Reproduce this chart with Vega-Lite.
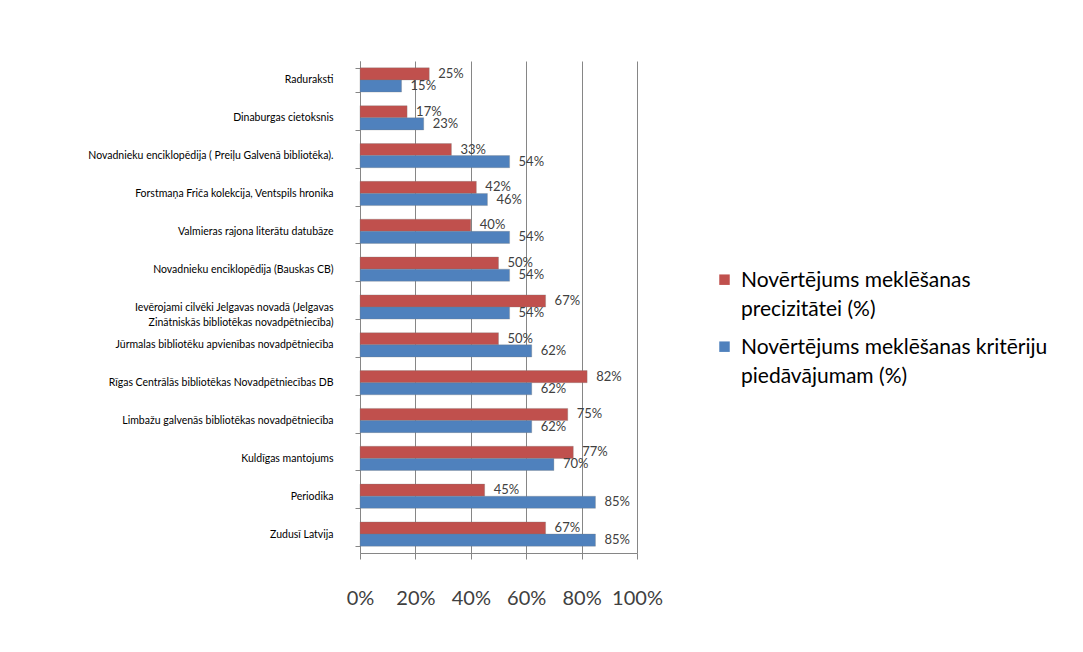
{
  "$schema": "https://vega.github.io/schema/vega-lite/v6.json",
  "width": 277,
  "height": 492,
  "autosize": {"type": "none"},
  "padding": {"left": 360, "top": 61, "right": 446, "bottom": 99},
  "background": "white",
  "config": {"view": {"stroke": null}, "font": "Lato", "style": {"guide-label": {"lineHeight": 29}}},
  "data": {
    "values": [
      {"source": "Raduraksti", "series": "Novērtējums meklēšanas precizitātei (%)", "value": 0.25},
      {"source": "Raduraksti", "series": "Novērtējums meklēšanas kritēriju piedāvājumam (%)", "value": 0.15},
      {"source": "Dinaburgas cietoksnis", "series": "Novērtējums meklēšanas precizitātei (%)", "value": 0.17},
      {"source": "Dinaburgas cietoksnis", "series": "Novērtējums meklēšanas kritēriju piedāvājumam (%)", "value": 0.23},
      {"source": "Novadnieku enciklopēdija  ( Preiļu Galvenā bibliotēka).", "series": "Novērtējums meklēšanas precizitātei (%)", "value": 0.33},
      {"source": "Novadnieku enciklopēdija  ( Preiļu Galvenā bibliotēka).", "series": "Novērtējums meklēšanas kritēriju piedāvājumam (%)", "value": 0.54},
      {"source": "Forstmaņa Friča kolekcija, Ventspils hronika", "series": "Novērtējums meklēšanas precizitātei (%)", "value": 0.42},
      {"source": "Forstmaņa Friča kolekcija, Ventspils hronika", "series": "Novērtējums meklēšanas kritēriju piedāvājumam (%)", "value": 0.46},
      {"source": "Valmieras rajona literātu datubāze", "series": "Novērtējums meklēšanas precizitātei (%)", "value": 0.40},
      {"source": "Valmieras rajona literātu datubāze", "series": "Novērtējums meklēšanas kritēriju piedāvājumam (%)", "value": 0.54},
      {"source": "Novadnieku enciklopēdija  (Bauskas CB)", "series": "Novērtējums meklēšanas precizitātei (%)", "value": 0.50},
      {"source": "Novadnieku enciklopēdija  (Bauskas CB)", "series": "Novērtējums meklēšanas kritēriju piedāvājumam (%)", "value": 0.54},
      {"source": "Ievērojami cilvēki Jelgavas novadā (Jelgavas Zinātniskās bibliotēkas  novadpētniecība)", "series": "Novērtējums meklēšanas precizitātei (%)", "value": 0.67},
      {"source": "Ievērojami cilvēki Jelgavas novadā (Jelgavas Zinātniskās bibliotēkas  novadpētniecība)", "series": "Novērtējums meklēšanas kritēriju piedāvājumam (%)", "value": 0.54},
      {"source": "Jūrmalas bibliotēku apvienības  novadpētniecība", "series": "Novērtējums meklēšanas precizitātei (%)", "value": 0.50},
      {"source": "Jūrmalas bibliotēku apvienības  novadpētniecība", "series": "Novērtējums meklēšanas kritēriju piedāvājumam (%)", "value": 0.62},
      {"source": "Rīgas Centrālās bibliotēkas  Novadpētniecības  DB", "series": "Novērtējums meklēšanas precizitātei (%)", "value": 0.82},
      {"source": "Rīgas Centrālās bibliotēkas  Novadpētniecības  DB", "series": "Novērtējums meklēšanas kritēriju piedāvājumam (%)", "value": 0.62},
      {"source": "Limbažu galvenās  bibliotēkas  novadpētniecība", "series": "Novērtējums meklēšanas precizitātei (%)", "value": 0.75},
      {"source": "Limbažu galvenās  bibliotēkas  novadpētniecība", "series": "Novērtējums meklēšanas kritēriju piedāvājumam (%)", "value": 0.62},
      {"source": "Kuldīgas  mantojums", "series": "Novērtējums meklēšanas precizitātei (%)", "value": 0.77},
      {"source": "Kuldīgas  mantojums", "series": "Novērtējums meklēšanas kritēriju piedāvājumam (%)", "value": 0.70},
      {"source": "Periodika", "series": "Novērtējums meklēšanas precizitātei (%)", "value": 0.45},
      {"source": "Periodika", "series": "Novērtējums meklēšanas kritēriju piedāvājumam (%)", "value": 0.85},
      {"source": "Zudusī Latvija", "series": "Novērtējums meklēšanas precizitātei (%)", "value": 0.67},
      {"source": "Zudusī Latvija", "series": "Novērtējums meklēšanas kritēriju piedāvājumam (%)", "value": 0.85}
    ]
  },
  "encoding": {
    "y": {
      "field": "source",
      "type": "nominal",
      "sort": [
        "Raduraksti",
        "Dinaburgas cietoksnis",
        "Novadnieku enciklopēdija  ( Preiļu Galvenā bibliotēka).",
        "Forstmaņa Friča kolekcija, Ventspils hronika",
        "Valmieras rajona literātu datubāze",
        "Novadnieku enciklopēdija  (Bauskas CB)",
        "Ievērojami cilvēki Jelgavas novadā (Jelgavas Zinātniskās bibliotēkas  novadpētniecība)",
        "Jūrmalas bibliotēku apvienības  novadpētniecība",
        "Rīgas Centrālās bibliotēkas  Novadpētniecības  DB",
        "Limbažu galvenās  bibliotēkas  novadpētniecība",
        "Kuldīgas  mantojums",
        "Periodika",
        "Zudusī Latvija"
      ],
      "scale": {"paddingInner": 0.36, "paddingOuter": 0.18},
      "axis": {
        "title": null,
        "labelFont": "Lato",
        "labelFontSize": 10.5,
        "labelColor": "#000000",
        "labelPadding": 22,
        "labelLimit": 400,
        "labelLineHeight": 15,
        "tickBand": "extent",
        "tickSize": 5,
        "tickColor": "#868686",
        "domainColor": "#868686",
        "labelExpr": "indexof(datum.label, 'Ievērojami') == 0 ? ['Ievērojami cilvēki Jelgavas novadā (Jelgavas', 'Zinātniskās bibliotēkas  novadpētniecība)'] : datum.label"
      }
    },
    "yOffset": {
      "field": "series",
      "sort": ["Novērtējums meklēšanas precizitātei (%)", "Novērtējums meklēšanas kritēriju piedāvājumam (%)"]
    },
    "x": {
      "field": "value",
      "type": "quantitative",
      "scale": {"domain": [0, 1]},
      "axis": {
        "title": null,
        "values": [0, 0.2, 0.4, 0.6, 0.8, 1],
        "format": ".0%",
        "labelFont": "Lato",
        "labelFontSize": 20,
        "labelColor": "#404040",
        "labelPadding": 29,
        "tickSize": 6,
        "tickColor": "#868686",
        "domainColor": "#868686",
        "grid": true,
        "gridColor": "#868686",
        "labelFlush": false
      }
    }
  },
  "layer": [
    {
      "mark": {"type": "bar", "stroke": "#7a7a7a", "strokeWidth": 0.5, "strokeOpacity": 0.6},
      "encoding": {
        "color": {
          "field": "series",
          "type": "nominal",
          "scale": {
            "domain": ["Novērtējums meklēšanas precizitātei (%)", "Novērtējums meklēšanas kritēriju piedāvājumam (%)"],
            "range": ["#C0504D", "#4F81BD"]
          },
          "legend": {
            "title": null,
            "orient": "none",
            "legendX": 354,
            "legendY": 215,
            "symbolType": "M-1,-2.3H1V-0.3H-1Z",
            "symbolSize": 110,
            "symbolStrokeWidth": 0,
            "labelFont": "Lato",
            "labelFontSize": 21,
            "labelColor": "#000000",
            "labelLimit": 400,
            "labelBaseline": "alphabetic",
            "labelOffset": 6,
            "rowPadding": 16,
            "labelExpr": "indexof(datum.label, 'precizit') >= 0 ? ['Novērtējums meklēšanas', 'precizitātei (%)'] : ['Novērtējums meklēšanas kritēriju', 'piedāvājumam (%)']"
          }
        }
      }
    },
    {
      "mark": {"type": "text", "align": "left", "baseline": "middle", "dx": 9, "fontSize": 13, "font": "Lato", "color": "#404040"},
      "encoding": {
        "text": {"field": "value", "type": "quantitative", "format": ".0%"}
      }
    }
  ]
}
